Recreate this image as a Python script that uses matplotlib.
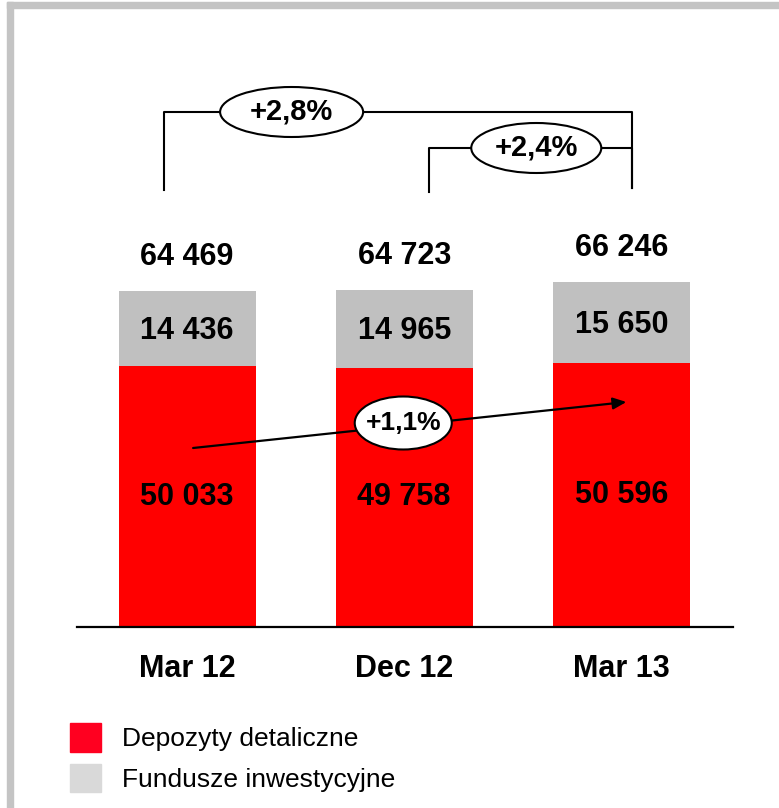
import matplotlib.pyplot as plt
from matplotlib.patches import Ellipse, Rectangle, Patch

# data
categories = ["Mar 12", "Dec 12", "Mar 13"]
deposits = [50033, 49758, 50596]
funds = [14436, 14965, 15650]
totals = [64469, 64723, 66246]
growth_labels = ["+2,8%", "+2,4%", "+1,1%"]
legend_labels = ["Depozyty detaliczne", "Fundusze inwestycyjne"]

RED = "#ff0000"
GRAY = "#c0c0c0"
FRAME = "#c4c4c4"

W, H = 779, 808
plt.rcParams['font.family'] = ['Liberation Sans', 'DejaVu Sans']
fig = plt.figure(figsize=(W / 100, H / 100), dpi=100)

# grey frame on the left and top
fig.patches.append(Rectangle((7 / W, 0), 6 / W, (H - 2) / H, transform=fig.transFigure, color=FRAME, zorder=0))
fig.patches.append(Rectangle((7 / W, (H - 8) / H), (W - 7) / W, 6 / H, transform=fig.transFigure, color=FRAME, zorder=0))

ax = fig.add_axes([77 / W, (H - 627) / H, 656 / W, 617 / H])
PXY = 0.00521  # pixels per unit of value
PXX = 217.1    # pixels per category step
ax.set_ylim(0, 617 / PXY)
ax.set_xlim(-0.507, 2.514)

def dy(p):  # pixels -> value units
  return p / PXY

def dx(p):  # pixels -> category units
  return p / PXX

def fmt(v):
  return f"{v:,}".replace(",", " ")

x = list(range(len(categories)))
ax.bar(x, deposits, width=0.631, color=RED, zorder=2)
ax.bar(x, funds, bottom=deposits, width=0.631, color=GRAY, zorder=2)

for i in x:
  ax.annotate(fmt(totals[i]), (i, deposits[i] + funds[i]), xytext=(0, 34),
              textcoords="offset pixels", ha="center", va="center", fontsize=22, fontweight="bold")
  ax.text(i, deposits[i] + funds[i] / 2 - dy(2), fmt(funds[i]),
          ha="center", va="center", fontsize=22, fontweight="bold", zorder=3)
  ax.text(i, deposits[i] / 2, fmt(deposits[i]),
          ha="center", va="center", fontsize=22, fontweight="bold", zorder=3)
  ax.text(i, -dy(42), categories[i], ha="center", va="center", fontsize=22, fontweight="bold")

for s in ["left", "right", "top"]:
  ax.spines[s].set_visible(False)
ax.spines["bottom"].set_linewidth(1.6)
ax.set_xticks([])
ax.set_yticks([])
ax.patch.set_alpha(0)

def bracket(x0, x1, ybot0, ybot1, ytop, label, ex, ew, eh):
  ax.plot([x0, x0, x1, x1], [ybot0, ytop, ytop, ybot1], color="black", lw=1.5, clip_on=False, zorder=4)
  ax.add_patch(Ellipse((ex, ytop), ew, eh, facecolor="white", edgecolor="black", lw=1.5, clip_on=False, zorder=5))
  ax.text(ex, ytop, label, ha="center", va="center", fontsize=21, fontweight="bold", zorder=6)

# Mar 12 -> Mar 13 and Dec 12 -> Mar 13
bracket(0 - dx(23), 2 + dx(11), dy(437), dy(439), dy(515), growth_labels[0], dx(104.5), dx(143), dy(50))
bracket(1 + dx(25), 2 + dx(11), dy(435), dy(439), dy(479), growth_labels[1], 1 + dx(132), dx(130), dy(50))

# deposits trend arrow
ax.annotate("", xy=(2 + dx(5), dy(225)), xytext=(0 + dx(6), dy(179)),
            arrowprops=dict(arrowstyle="-|>,head_length=0.8,head_width=0.35", color="black", lw=1.6,
                            shrinkA=0, shrinkB=0), zorder=4)
ax.add_patch(Ellipse((1 - dx(1), dy(204)), dx(97), dy(53), facecolor="white", edgecolor="black", lw=1.5, zorder=5))
ax.text(1 - dx(1), dy(204), growth_labels[2], ha="center", va="center", fontsize=19, fontweight="bold", zorder=6)

handles = [Patch(color="#ff0020"), Patch(color="#d9d9d9")]
fig.legend(handles, legend_labels, loc="upper left", bbox_to_anchor=(70 / W, (H - 723) / H),
           frameon=False, fontsize=19, handlelength=1.17, handleheight=1.3, handletextpad=0.8,
           labelspacing=0.45, borderpad=0, borderaxespad=0)

fig.savefig("out.png", dpi=100)
